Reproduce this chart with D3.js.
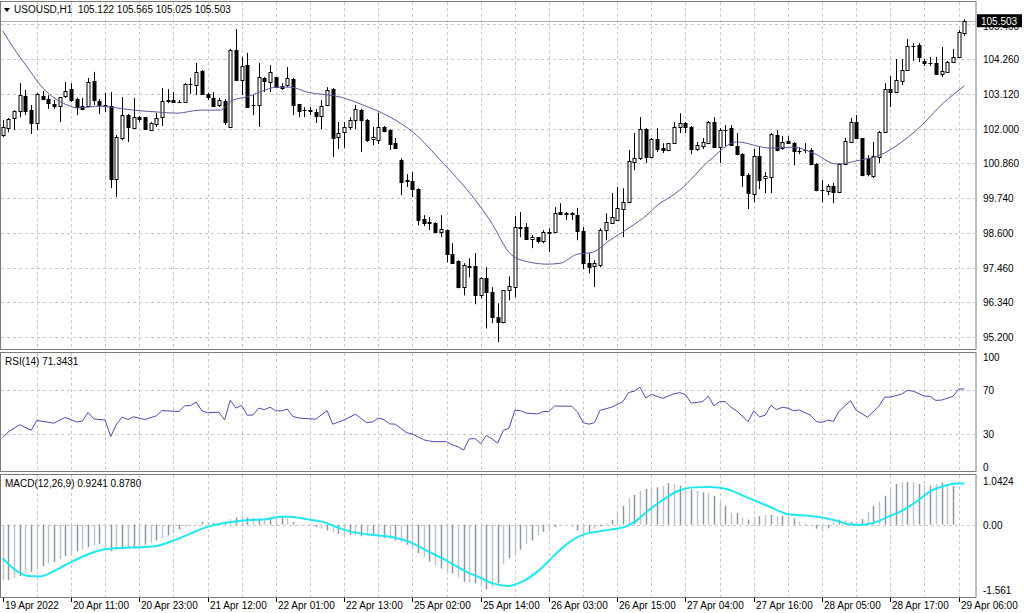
<!DOCTYPE html>
<html><head><meta charset="utf-8">
<script src="https://cdn.jsdelivr.net/npm/d3@7"></script>
<style>body{margin:0;background:#fff}svg{display:block}text{font-family:"Liberation Sans",Arial,sans-serif;font-size:10px;fill:#000}</style>
</head><body><svg id="c" width="1024" height="613"></svg>
<script>
// ---- data ----
const symbolTitle = "USOUSD,H1  105.122 105.565 105.025 105.503";
const timeLabels = ["19 Apr 2022","20 Apr 11:00","20 Apr 23:00","21 Apr 12:00","22 Apr 01:00","22 Apr 13:00","25 Apr 02:00","25 Apr 14:00","26 Apr 03:00","26 Apr 15:00","27 Apr 04:00","27 Apr 16:00","28 Apr 05:00","28 Apr 17:00","29 Apr 06:00"];
const priceTicks = [105.400,104.260,103.120,102.000,100.860,99.740,98.600,97.460,96.340,95.200];
const rsiTicks = [100,70,30,0];
const macdTicks = [1.0424,0.00,-1.561];
// [open, high, low, close]
const ohlc = [
[101.79,102.28,101.72,102.05],[102.02,102.34,101.88,102.31],[102.34,102.60,101.95,102.57],[102.57,103.48,102.37,103.09],[103.06,103.26,102.44,102.57],
[102.60,102.77,101.82,102.18],[102.18,103.16,101.95,103.13],[103.06,103.22,102.93,102.96],[102.96,103.09,102.64,102.83],[102.80,102.93,102.64,102.73],
[102.73,103.03,102.21,103.03],[103.06,103.52,103.00,103.22],[103.29,103.48,102.87,102.93],[102.96,103.00,102.44,102.70],[102.73,103.00,102.60,102.64],
[102.73,103.65,102.70,103.52],[103.55,103.85,102.77,102.93],[102.90,102.96,102.47,102.77],[102.77,103.16,102.54,102.73],[102.73,103.19,100.05,100.35],
[100.35,101.79,99.76,101.72],[101.69,103.03,101.62,102.44],[102.44,102.47,101.56,102.05],[102.02,103.00,102.02,102.37],[102.37,102.41,102.21,102.31],
[102.37,102.37,101.95,101.98],[101.95,102.21,101.92,102.18],[102.15,102.51,102.05,102.34],[102.37,103.32,102.08,102.90],[102.93,103.29,102.83,102.90],
[102.93,103.19,102.83,102.87],[102.87,102.93,102.83,102.85],[102.87,103.48,102.83,103.45],[103.45,103.65,103.13,103.44],[103.42,104.14,103.09,103.85],
[103.88,103.91,103.09,103.13],[103.13,103.16,102.93,103.03],[103.00,103.19,102.70,102.73],[102.77,103.00,102.70,102.93],[102.90,102.96,102.11,102.21],
[102.05,104.60,102.05,104.57],[104.57,105.25,103.55,103.58],[103.58,104.34,103.09,104.04],[104.07,104.47,102.70,102.70],[102.77,103.09,102.44,102.76],
[102.77,104.14,102.05,103.68],[103.65,103.68,103.19,103.55],[103.52,104.07,103.19,103.85],[103.68,103.68,103.35,103.35],[103.39,103.48,103.26,103.32],
[103.42,104.01,103.35,103.65],[103.62,103.65,102.44,102.77],[102.80,102.80,102.37,102.57],[102.60,102.70,102.37,102.59],[102.60,102.70,102.44,102.57],
[102.54,102.64,102.18,102.41],[102.41,102.93,101.98,102.73],[102.77,103.35,102.73,103.26],[103.29,103.32,101.07,101.69],[101.72,102.21,101.33,101.85],
[101.88,102.21,101.36,102.05],[102.05,102.37,101.95,102.28],[102.28,102.77,101.98,102.64],[102.60,102.64,101.23,102.28],[102.28,102.31,101.56,101.62],
[101.65,102.05,101.46,101.72],[101.62,102.51,101.49,102.05],[102.05,102.08,101.88,101.92],[101.95,101.98,101.30,101.49],[101.52,101.69,101.33,101.36],
[100.97,101.03,99.82,100.25],[100.31,100.51,100.09,100.28],[100.28,100.58,99.76,100.02],[100.02,100.05,98.84,99.01],[99.04,99.17,98.81,98.91],
[98.94,99.11,98.68,98.91],[98.91,98.94,98.58,98.61],[98.61,99.17,98.45,98.71],[98.68,98.71,97.63,97.89],[97.89,98.25,97.60,97.60],
[97.66,97.70,96.78,96.81],[96.81,97.60,96.55,97.53],[97.50,97.76,97.14,97.48],[97.50,97.93,96.26,96.55],[96.55,97.14,96.45,97.11],
[97.11,97.47,95.47,96.65],[96.65,96.82,95.64,95.83],[95.83,96.29,95.02,95.67],[95.67,96.72,95.64,96.72],[96.72,97.17,96.39,96.85],
[96.82,99.14,96.49,98.78],[98.78,99.27,98.45,98.76],[98.78,98.91,98.38,98.38],[98.38,98.52,98.09,98.45],[98.45,98.45,98.25,98.32],
[98.32,98.68,98.25,98.61],[98.61,98.74,97.96,98.60],[98.61,99.43,98.58,99.23],[99.27,99.56,99.17,99.20],[99.23,99.27,99.01,99.22],
[99.23,99.27,99.01,99.20],[99.17,99.40,98.35,98.65],[98.65,98.78,97.40,97.60],[97.60,97.93,97.27,97.47],[97.50,97.70,96.82,97.60],
[97.53,98.74,97.47,98.68],[98.68,99.23,98.35,98.94],[98.91,99.89,98.88,99.10],[99.01,100.09,98.97,99.40],[99.37,100.05,98.45,99.59],
[99.59,101.30,99.56,100.94],[100.90,101.85,100.64,101.03],[101.03,102.37,100.97,101.98],[101.98,102.01,100.87,101.07],[101.07,101.69,101.03,101.65],
[101.65,102.01,101.23,101.33],[101.36,101.52,101.20,101.30],[101.30,101.52,101.26,101.52],[101.52,102.21,101.49,102.05],[102.05,102.50,101.85,102.18],
[102.18,102.21,101.85,102.05],[102.05,102.08,101.16,101.33],[101.33,101.56,101.26,101.46],[101.43,101.69,101.33,101.56],[101.52,102.24,101.49,102.21],
[102.21,102.37,101.36,101.39],[101.39,102.01,100.87,101.95],[101.95,102.11,101.39,101.94],[102.01,102.11,101.43,101.46],[101.43,101.85,101.13,101.16],
[101.16,101.20,100.09,100.48],[100.48,100.54,99.37,99.89],[99.86,101.33,99.59,101.10],[101.10,101.39,100.02,100.31],[100.38,100.58,99.89,100.44],
[100.41,101.85,99.89,101.82],[101.79,101.95,101.26,101.30],[101.36,101.75,101.30,101.56],[101.59,101.75,101.52,101.52],[101.52,101.56,100.80,101.26],
[101.26,101.39,101.16,101.25],[101.30,101.52,101.20,101.29],[101.30,101.36,100.80,100.84],[100.84,100.87,99.95,99.99],[99.99,100.31,99.59,99.98],
[99.95,100.18,99.82,100.12],[100.12,100.22,99.56,99.92],[99.92,100.87,99.89,100.84],[100.84,101.69,100.80,101.59],[101.56,102.34,101.56,102.21],
[102.21,102.44,101.65,101.69],[101.69,101.69,100.44,100.48],[101.03,101.13,100.44,100.51],[100.44,101.56,100.38,101.10],[101.07,101.92,100.87,101.88],
[101.88,103.48,101.85,103.29],[103.29,103.71,102.70,103.19],[103.19,104.27,103.16,103.58],[103.55,104.27,103.42,103.91],[103.91,104.92,103.88,104.70],
[104.70,104.79,104.21,104.69],[104.73,104.79,104.17,104.34],[104.21,104.27,104.04,104.14],[104.14,104.34,104.04,104.13],[104.14,104.34,103.75,103.78],
[103.78,104.66,103.68,103.88],[103.85,104.21,103.81,104.17],[104.17,104.60,104.14,104.34],[104.34,105.22,104.30,105.15],[105.122,105.565,105.025,105.503]
];
// moving average (bar index, value)
const maBars = [0,1.8,4.3,6.6,8.8,11.3,13.2,17.1,18.9,22.9,27.1,30.6,34.7,38.2,40.5,42.9,45.2,48.2,50.5,53.5,59.5,63.3,68.1,72.1,77.4,82.1,85.6,89.5,92.7,95.7,98,100.9,103.7,106.7,110.3,113.2,115.5,117.3,119,124.3,129,134.9,138.9,142.4,146.6,150.7,154.2,157.7,161.2,165.3,169];
const maVals = [105.19,104.66,104.01,103.42,103.03,102.77,102.67,102.73,102.70,102.60,102.54,102.50,102.60,102.60,102.93,103.03,103.19,103.35,103.35,103.19,103.02,102.77,102.37,101.88,100.87,99.89,99.01,97.86,97.63,97.57,97.60,97.89,97.96,98.35,98.78,99.17,99.56,99.76,99.99,100.97,101.56,101.36,101.39,101.20,100.84,100.97,101.13,101.52,102.05,102.83,103.39];
// RSI(14) (bar index, value)
const rsiBars = [0,1,3,5,6,9,11,13,14,15,16,18,19,20,21,22,23,25,27,28,31,32,33,34,35,36,38,39,40,41,42,43,44,45,46,47,48,49,50,51,52,55,57,58,60,62,64,65,66,67,68,69,71,72,74,75,76,78,79,80,81,82,83,84,85,86,87,88,89,90,91,92,94,95,96,97,100,101,102,103,104,105,107,109,110,111,112,113,114,116,118,119,120,121,123,124,125,126,127,128,129,131,132,133,134,135,136,137,138,139,140,142,143,144,145,146,147,149,150,152,154,155,156,158,159,160,162,163,164,165,167,168,169];
const rsiVals = [27.2,32.2,38.7,33.6,42.6,40.1,45.4,41.2,42.0,49.9,44.0,42.9,28.0,39.2,45.7,43.4,45.9,43.4,46.8,51.5,50.7,56.0,56.0,59.4,51.3,49.6,50.1,43.1,61.0,53.8,56.3,47.3,47.6,53.8,52.4,54.6,51.3,51.3,52.9,46.2,44.8,43.7,51.5,39.2,43.1,48.2,40.6,41.2,44.8,43.4,39.5,39.2,31.4,30.3,25.0,23.8,23.3,23.3,20.5,18.8,15.7,25.8,26.1,21.6,28.9,25.8,22.0,33.6,35.6,51.8,51.5,49.3,48.5,50.7,50.7,55.7,55.5,50.4,40.6,39.2,40.6,51.8,54.6,59.7,68.0,69.2,72.8,63.0,66.4,62.7,66.9,67.8,66.1,58.3,59.7,64.7,55.7,59.7,59.7,54.6,51.3,41.5,51.3,45.9,47.3,56.3,52.4,54.6,53.8,51.5,52.1,47.3,41.5,40.9,42.9,41.8,51.0,60.5,51.8,45.6,55.7,63.8,63.8,66.6,70.0,69.2,64.7,64.5,60.8,61.1,64.5,71.1,71.3];
// MACD histogram, one value per bar
const macdMain = [-1.33,-1.33,-1.27,-1.23,-1.17,-1.13,-1.07,-0.99,-0.93,-0.89,-0.83,-0.75,-0.70,-0.64,-0.59,-0.54,-0.50,-0.46,
-0.59,-0.64,-0.60,-0.59,-0.58,-0.54,-0.51,-0.48,-0.44,-0.38,-0.32,-0.26,-0.21,-0.12,-0.06,-0.02,0.02,0.07,0.06,0.04,
0.04,0.06,0.13,0.17,0.20,0.17,0.16,0.15,0.16,0.17,0.18,0.17,0.15,0.06,0.02,-0.01,-0.04,-0.06,-0.10,-0.14,
-0.18,-0.22,-0.25,-0.25,-0.26,-0.28,-0.26,-0.26,-0.30,-0.32,-0.34,-0.38,-0.42,-0.48,-0.58,-0.68,-0.78,-0.89,
-0.97,-1.05,-1.13,-1.17,-1.27,-1.37,-1.39,-1.41,
-1.49,-1.55,-1.49,-1.41,-0.94,-0.80,-0.70,-0.60,-0.46,-0.38,-0.26,-0.17,-0.12,-0.06,-0.02,0.00,-0.06,-0.14,-0.20,-0.17,
-0.10,-0.04,0.04,0.11,0.29,0.45,0.63,0.71,0.81,0.85,0.87,0.89,0.93,0.99,0.97,0.93,0.83,0.85,0.81,0.77,
0.75,0.69,0.57,0.45,0.29,0.28,0.17,0.12,0.17,0.20,0.23,0.23,0.20,0.21,0.21,0.15,0.07,0.02,-0.02,-0.10,
-0.14,-0.09,0.07,0.12,0.11,0.06,0.07,0.13,0.31,0.45,0.55,0.69,0.87,0.97,1.01,1.02,1.01,0.97,0.94,0.93,0.97,1.01,0.97,0.92];
// MACD signal (bar index, value)
const sigBars = [0,1.9,4.5,6.6,8.9,11.8,14.8,18,20.6,24.1,27.1,30,32.9,35.8,38.2,40.5,43.5,46.4,48.7,50.5,53.4,56.4,59.3,61.6,65.1,68.6,71.6,74.5,78,81.5,83.9,86,88.8,91.2,94.2,97.2,99.6,102,104.4,106.8,109.2,111,113.4,115.8,118.8,121.2,124.2,127.2,130.8,134.4,138,141.6,144,146.4,148.2,150.6,153,156,158.4,160.8,163.2,165.6,167.4,169];
const sigVals = [-0.80,-1.05,-1.23,-1.24,-1.12,-0.91,-0.72,-0.59,-0.56,-0.54,-0.51,-0.38,-0.22,-0.06,0.02,0.07,0.11,0.13,0.19,0.19,0.13,0.06,-0.09,-0.18,-0.25,-0.30,-0.42,-0.62,-0.86,-1.13,-1.27,-1.40,-1.47,-1.37,-1.10,-0.70,-0.42,-0.24,-0.17,-0.12,-0.06,0.06,0.33,0.57,0.81,0.89,0.90,0.85,0.65,0.45,0.25,0.21,0.17,0.10,0.02,-0.01,0.04,0.21,0.36,0.57,0.81,0.93,0.98,0.98];

// ---- layout ----
const svg = d3.select("#c");
const R = 976;
const main = {t:1, b:349}, rsiP = {t:352, b:471}, macP = {t:474, b:597};
const x = d3.scaleLinear().domain([0,169]).range([2.7,964.3]);
const y = d3.scaleLinear().domain([104.26,99.74]).range([59.3,197.7]);
const yR = d3.scaleLinear().domain([0,100]).range([467.3,357.3]);
const yM = d3.scaleLinear().domain([0,1.0424]).range([524.6,481]);
const gridC = "#c8c8c8";

[main,rsiP,macP].forEach(p=>{
  svg.append("rect").attr("x",0.5).attr("y",p.t+0.5).attr("width",R-0.5).attr("height",p.b-p.t).attr("fill","#fff").attr("stroke","#7a7a7a");
});
const vg = d3.range(6,169,6);
[main,rsiP,macP].forEach(p=>{
  svg.append("g").selectAll("line").data(vg).join("line")
   .attr("x1",d=>Math.round(x(d))+0.5).attr("x2",d=>Math.round(x(d))+0.5).attr("y1",p.t+1).attr("y2",p.b)
   .attr("stroke",gridC).attr("stroke-dasharray","3,3");
});
svg.append("g").selectAll("line").data(priceTicks).join("line")
  .attr("x1",1).attr("x2",R).attr("y1",d=>Math.round(y(d))+0.5).attr("y2",d=>Math.round(y(d))+0.5)
  .attr("stroke",gridC).attr("stroke-dasharray","3,3");
svg.append("g").selectAll("line").data([70,30]).join("line")
  .attr("x1",1).attr("x2",R).attr("y1",d=>Math.round(yR(d))+0.5).attr("y2",d=>Math.round(yR(d))+0.5)
  .attr("stroke",gridC).attr("stroke-dasharray","3,3");
svg.append("line").attr("x1",1).attr("x2",R).attr("y1",Math.round(yM(0))+0.5).attr("y2",Math.round(yM(0))+0.5)
  .attr("stroke",gridC).attr("stroke-dasharray","3,3");

svg.append("g").selectAll("text").data(priceTicks.slice(1)).join("text")
  .attr("x",983).attr("y",d=>y(d)+4).text(d=>d.toFixed(3));
svg.append("text").attr("x",983).attr("y",y(105.4)+6).text("105.400");
svg.append("g").selectAll("text").data(rsiTicks).join("text")
  .attr("x",983).attr("y",d=>yR(d)+4).text(d=>d);
svg.append("g").selectAll("text").data(macdTicks).join("text")
  .attr("x",983).attr("y",d=>yM(d)+4).text(d=>d===0?"0.00":String(d));
svg.append("g").selectAll("text").data(timeLabels).join("text")
  .attr("x",(d,i)=>Math.round(x(i*12))+2).attr("y",609).text(d=>d);
svg.append("g").selectAll("line").data(timeLabels).join("line")
  .attr("x1",(d,i)=>Math.round(x(i*12))+0.5).attr("x2",(d,i)=>Math.round(x(i*12))+0.5)
  .attr("y1",598).attr("y2",602).attr("stroke","#000");

const last = ohlc[ohlc.length-1][3];
svg.append("line").attr("x1",1).attr("x2",R).attr("y1",Math.round(y(last))+0.5).attr("y2",Math.round(y(last))+0.5).attr("stroke","#b0b0b0");

const cg = svg.append("g");
ohlc.forEach((d,i)=>{
  const [o,h,l,c] = d, cx = Math.round(x(i))+0.5;
  cg.append("line").attr("x1",cx).attr("x2",cx).attr("y1",y(h)).attr("y2",y(l)).attr("stroke","#000");
  const top = Math.round(y(Math.max(o,c))), bot = Math.round(y(Math.min(o,c)));
  if (bot-top < 1) {
    cg.append("line").attr("x1",cx-2).attr("x2",cx+2).attr("y1",top+0.5).attr("y2",top+0.5).attr("stroke","#000");
  } else {
    cg.append("rect").attr("x",cx-1.5).attr("y",top+0.5).attr("width",3).attr("height",bot-top)
      .attr("fill",c>=o?"#fff":"#000").attr("stroke","#000");
  }
});
svg.append("path").datum(maBars.map((b,i)=>[b,maVals[i]]))
  .attr("d",d3.line().x(d=>x(d[0])).y(d=>y(d[1])).curve(d3.curveMonotoneX))
  .attr("fill","none").attr("stroke","#5a5aa0").attr("stroke-width",1);
svg.append("path").datum(rsiBars.map((b,i)=>[b,rsiVals[i]]))
  .attr("d",d3.line().x(d=>x(d[0])).y(d=>yR(d[1])))
  .attr("fill","none").attr("stroke","#4b4bb0").attr("stroke-width",1);
svg.append("g").selectAll("line").data(macdMain).join("line")
  .attr("x1",(d,i)=>Math.round(x(i))+0.5).attr("x2",(d,i)=>Math.round(x(i))+0.5)
  .attr("y1",yM(0)).attr("y2",d=>yM(d))
  .attr("stroke",(d,i)=>i%2?"#8c96a0":"#bcc4cc").attr("stroke-width",1.5);
svg.append("path").datum(sigBars.map((b,i)=>[b,sigVals[i]]))
  .attr("d",d3.line().x(d=>x(d[0])).y(d=>yM(d[1])).curve(d3.curveMonotoneX))
  .attr("fill","none").attr("stroke","#1ee8f0").attr("stroke-width",2);

svg.append("path").attr("d","M4,8 L10,8 L7,12 Z").attr("fill","#000");
svg.append("text").attr("x",14).attr("y",13).attr("xml:space","preserve").text(symbolTitle);
svg.append("text").attr("x",5).attr("y",365).text("RSI(14) 71.3431");
svg.append("text").attr("x",5).attr("y",487).text("MACD(12,26,9) 0.9241 0.8780");
svg.append("rect").attr("x",977).attr("y",y(last)-7).attr("width",45).attr("height",13).attr("fill","#000");
svg.append("text").attr("x",981).attr("y",y(last)+4).style("fill","#fff").text(last.toFixed(3));
</script></body></html>
